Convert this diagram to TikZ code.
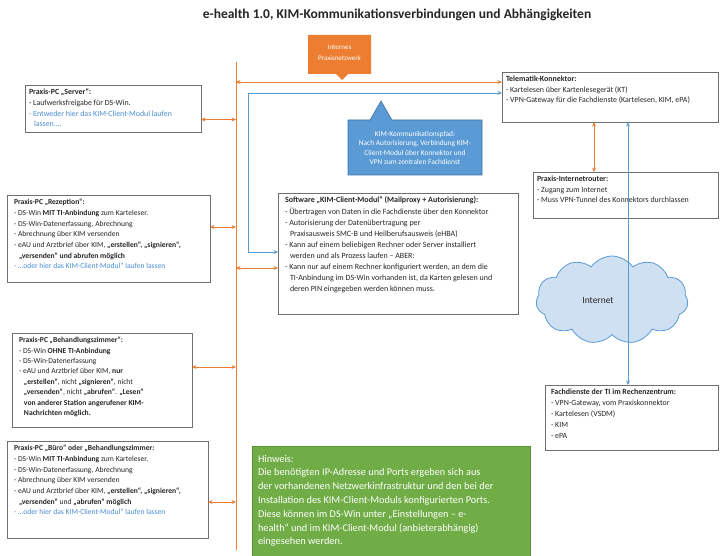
\documentclass[tikz,border=0pt]{standalone}
\usepackage{fontspec}
\setmainfont{Carlito}
\usetikzlibrary{arrows.meta,shapes.symbols}
\definecolor{orng}{HTML}{ED7D31}
\definecolor{blu}{HTML}{5B9BD5}
\definecolor{bludk}{HTML}{41719C}
\definecolor{grn}{HTML}{70AD47}
\definecolor{grnd}{HTML}{5A8F38}
\definecolor{bord}{HTML}{6F6F6F}
\definecolor{txt}{HTML}{262626}
\definecolor{ltxt}{HTML}{4A8CD3}
\definecolor{cld}{HTML}{CFE0F3}
\newcommand\ind{\hspace*{5pt}}
\begin{document}
\begin{tikzpicture}[x=1pt,y=-1pt,
  box/.style={draw=bord, line width=0.8pt, fill=white, inner sep=4pt, outer sep=0pt,
    anchor=north west, font=\fontsize{7.9}{10.7}\selectfont, text=txt},
  lbox/.style={box, inner xsep=7pt, font=\fontsize{7.6}{10.7}\selectfont},
  oarr/.style={draw=orng, line width=0.8pt, {Stealth[length=4.5pt,width=4pt]}-{Stealth[length=4.5pt,width=4pt]}},
  barr/.style={draw=blu, line width=0.8pt, {Stealth[length=4.5pt,width=4pt]}-{Stealth[length=4.5pt,width=4pt]}},
  call/.style={font=\fontsize{7.4}{9.2}\selectfont, text=white, align=center, inner sep=0pt}
]
\useasboundingbox (0,0) rectangle (722,556);
\fill[white] (0,0) rectangle (722,556);

\node[font=\fontsize{13.5}{16}\selectfont\bfseries, text=black!85] (title) at (397,15)
  {e-health 1.0, KIM-Kommunikationsverbindungen und Abhängigkeiten};

% bus
\coordinate (bt) at (236,62);
\coordinate (bb) at (236,550);
\draw[orng, line width=0.9pt] (bt) -- (bb);

% boxes
\node[box, inner ysep=4pt] (srv) at (25,85) {\parbox[t][39pt][t]{168pt}{\raggedright
  \textbf{Praxis-PC „Server“:}\\
  - Laufwerksfreigabe für DS-Win.\\
  {\color{ltxt}- Entweder hier das KIM-Client-Modul laufen\\
  \ind lassen….}}};

\node[lbox] (rez) at (7,195) {\parbox[t][79pt][t]{189pt}{\raggedright
  \textbf{Praxis-PC „Rezeption“:}\\
  - DS-Win \textbf{MIT TI-Anbindung} zum Karteleser.\\
  - DS-Win-Datenerfassung, Abrechnung\\
  - Abrechnung über KIM versenden\\
  - eAU und Arztbrief über KIM, \textbf{„erstellen“, „signieren“,}\\
  \ind\textbf{„versenden“ und abrufen möglich}\\
  {\color{ltxt}- …oder hier das KIM-Client-Modul“ laufen lassen}}};

\node[lbox] (beh) at (12,333) {\parbox[t][86pt][t]{166pt}{\raggedright
  \fontsize{7.6}{10.4}\selectfont
  \textbf{Praxis-PC „Behandlungszimmer“:}\\
  - DS-Win \textbf{OHNE TI-Anbindung}\\
  - DS-Win-Datenerfassung\\
  - eAU und Arztbrief über KIM, \textbf{nur}\\
  \ind\textbf{„erstellen“}, nicht \textbf{„signieren“}, nicht\\
  \ind\textbf{„versenden“}, nicht \textbf{„abrufen“}. \textbf{„Lesen“}\\
  \ind\textbf{von anderer Station angerufener KIM-}\\
  \ind\textbf{Nachrichten möglich.}}};

\node[lbox] (bur) at (7,441) {\parbox[t][89pt][t]{187pt}{\raggedright
  \textbf{Praxis-PC „Büro“ oder „Behandlungszimmer:}\\
  - DS-Win \textbf{MIT TI-Anbindung} zum Karteleser.\\
  - DS-Win-Datenerfassung, Abrechnung\\
  - Abrechnung über KIM versenden\\
  - eAU und Arztbrief über KIM, \textbf{„erstellen“, „signieren“,}\\
  \ind\textbf{„versenden“} und \textbf{„abrufen“ möglich}\\
  {\color{ltxt}- …oder hier das KIM-Client-Modul“ laufen lassen}}};

\node[box, inner xsep=7pt] (sw) at (278,193) {\parbox[t][113pt][t]{226pt}{\raggedright
  \fontsize{8}{11.1}\selectfont
  \textbf{Software „KIM-Client-Modul“ (Mailproxy + Autorisierung):}\\
  - Übertragen von Daten in die Fachdienste über den Konnektor\\
  - Autorisierung der Datenübertragung per\\
  \ind Praxisausweis SMC-B und Heilberufsausweis (eHBA)\\
  - Kann auf einem beliebigen Rechner oder Server installiert\\
  \ind werden und als Prozess laufen – ABER:\\
  - Kann nur auf einem Rechner konfiguriert werden, an dem die\\
  \ind TI-Anbindung im DS-Win vorhanden ist, da Karten gelesen und\\
  \ind deren PIN eingegeben werden können muss.}};

\node[box] (tk) at (502,72) {\parbox[t][42pt][t]{208pt}{\raggedright
  \textbf{Telematik-Konnektor:}\\
  - Kartelesen über Kartenlesegerät (KT)\\
  - VPN-Gateway für die Fachdienste (Kartelesen, KIM, ePA)}};

\node[box] (rt) at (533,172) {\parbox[t][38pt][t]{177pt}{\raggedright
  \textbf{Praxis-Internetrouter:}\\
  - Zugang zum Internet\\
  - Muss VPN-Tunnel des Konnektors durchlassen}};

\node[cloud, cloud puffs=11, cloud puff arc=110, aspect=1.7, draw=blu, fill=cld,
  line width=0.8pt, minimum width=152pt, minimum height=88pt,
  label={[font=\fontsize{9.5}{11}\selectfont, text=txt, xshift=-14pt]center:Internet}] (inet) at (612,300) {};

\node[box, inner xsep=6pt] (fd) at (545,385) {\parbox[t][57pt][t]{161pt}{\raggedright
  \fontsize{7.9}{11}\selectfont
  \textbf{Fachdienste der TI im Rechenzentrum:}\\
  - VPN-Gateway, vom Praxiskonnektor\\
  - Kartelesen (VSDM)\\
  - KIM\\
  - ePA}};

\node[anchor=north west, fill=grn, draw=grnd, line width=0.6pt, text=white,
  inner xsep=6pt, inner ysep=9pt, outer sep=0pt, font=\fontsize{10.3}{13.8}\selectfont]
  (hint) at (252,446) {\parbox[t][106pt][t]{266pt}{\raggedright
  Hinweis:\\
  Die benötigten IP-Adresse und Ports ergeben sich aus\\
  der vorhandenen Netzwerkinfrastruktur und den bei der\\
  Installation des KIM-Client-Moduls konfigurierten Ports.\\
  Diese können im DS-Win unter „Einstellungen – e-\\
  health“ und im KIM-Client-Modul (anbieterabhängig)\\
  eingesehen werden.}};

% callouts
\fill[orng] (308,35) -- (371,35) -- (371,74) -- (348,74) -- (342,80) -- (336,74) -- (308,74) -- cycle;
\node[call, font=\fontsize{7}{11}\selectfont] (inpn) at (339.5,53) {Internes\\Praxisnetzwerk};

\filldraw[fill=blu, draw=bludk, line width=0.6pt] (348,120) -- (370,120) -- (381,101) -- (392,120) -- (482,120) -- (482,175) -- (348,175) -- cycle;
\node[call] (kimp) at (415,148) {KIM-Kommunikationspfad:\\Nach Autorisierung, Verbindung KIM-\\Client-Modul über Konnektor und\\VPN zum zentralen Fachdienst};

% connectors to bus
\coordinate (srvA) at ([yshift=-11pt]srv.east);
\coordinate (rezA) at ([yshift=11.5pt]rez.east);
\coordinate (behA) at ([yshift=13pt]beh.east);
\coordinate (burA) at ([yshift=-12.5pt]bur.east);
\coordinate (swA) at ([yshift=-14.5pt]sw.west);
\coordinate (swB) at ([yshift=1.5pt]sw.west);
\coordinate (tkO) at ([yshift=15pt]tk.west);
\coordinate (tkB) at ([yshift=4pt]tk.west);
\coordinate (bl) at (248,93);
\draw[oarr] (srvA) -- (srvA -| bt);
\draw[oarr] (rezA) -- (rezA -| bt);
\draw[oarr] (behA) -- (behA -| bt);
\draw[oarr] (burA) -- (burA -| bt);
\draw[oarr] (swA -| bt) -- (swA);
\draw[oarr] (tkO -| bt) -- (tkO);
\draw[barr] (swB) -- (swB -| bl) -- (bl) -- (tkB);

% right side
\coordinate (tkS) at ([xshift=-16pt]tk.south);
\coordinate (tkS2) at ([xshift=18pt]tk.south);
\draw[oarr] (tkS) -- (tkS |- rt.north);
\draw[barr] (tkS2) -- (tkS2 |- fd.north);
\end{tikzpicture}
\end{document}
